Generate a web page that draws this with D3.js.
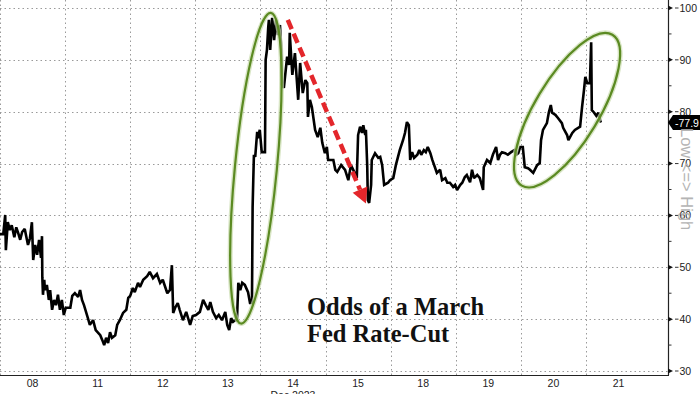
<!DOCTYPE html>
<html><head><meta charset="utf-8">
<script src="https://cdn.jsdelivr.net/npm/d3@7"></script>
<style>body{margin:0;background:#fff}svg{display:block}</style>
</head><body><svg id="c" width="700" height="394"></svg>
<script>
// ---- data ----
const dayLabels = ["08","11","12","13","14","15","18","19","20","21"];
const yTicks = [30,40,50,60,70,80,90,100];
const yMinorTicks = [35,45,55,65,75,85,95];
const monthLabel = "Dec 2023";
const axisCaption = "Low <=> High";
const annotationLines = ["Odds of a March","Fed Rate-Cut"];
const lastValue = 77.9;
// time in trading-day index (0 = start of Dec 08)
const times = [
0.00,0.05,0.08,0.09,0.12,0.15,0.18,0.22,0.25,0.28,0.31,0.34,0.38,0.43,0.46,0.49,0.51,0.54,0.57,0.60,0.63,0.645,0.65,0.66,0.68,0.69,0.72,0.75,0.77,0.80,0.83,0.86,0.89,0.92,0.95,0.98,
1.01,1.08,1.11,1.15,1.20,1.23,1.26,1.29,1.35,1.38,1.43,1.47,1.54,1.57,1.60,1.63,1.66,1.69,1.72,1.77,1.80,1.84,1.89,1.94,1.97,
2.00,2.04,2.07,2.12,2.15,2.20,2.26,2.30,2.35,2.41,2.46,2.50,2.57,2.61,2.64,2.66,2.69,2.73,2.76,2.81,2.86,2.92,2.96,
3.01,3.07,3.12,3.16,3.20,3.23,3.27,3.32,3.36,3.41,3.46,3.49,3.52,3.55,3.58,3.61,3.64,3.66,3.69,3.72,3.76,3.81,3.84,3.87,3.88,3.89,3.90,3.92,3.95,3.96,3.99,
4.02,4.07,4.08,4.10,4.12,4.13,4.15,4.18,4.21,4.24,4.27,4.30,4.32,4.33,4.36,4.41,4.44,4.45,4.49,4.53,4.58,4.61,4.65,4.69,4.72,4.73,4.76,4.79,4.84,4.88,4.92,4.95,4.99,
5.02,5.04,5.12,5.15,5.18,5.24,5.30,5.35,5.39,5.44,5.48,5.50,5.53,5.56,5.58,5.61,5.62,5.64,5.65,5.67,5.70,5.71,5.76,5.81,5.84,5.87,5.90,5.96,5.99,
6.04,6.08,6.14,6.19,6.22,6.25,6.28,6.30,6.33,6.36,6.41,6.44,6.47,6.51,6.54,6.57,6.61,6.64,6.68,6.71,6.76,6.79,6.84,6.87,6.91,6.96,6.99,
7.02,7.07,7.10,7.14,7.17,7.22,7.25,7.28,7.33,7.37,7.42,7.43,7.48,7.53,7.57,7.62,7.65,7.68,7.71,7.76,7.80,7.85,7.90,7.93,7.96,7.99,
8.03,8.06,8.11,8.14,8.19,8.25,8.29,8.31,8.34,8.40,8.43,8.46,8.48,8.53,8.57,8.63,8.65,8.71,8.73,8.79,8.83,8.88,8.91,8.94,8.97,8.99,
9.02,9.06,9.08,9.09,9.12,9.16,9.19,9.22,9.23
];
const values = [
56.4,56.4,60.1,53.3,58.7,57.2,58.1,55.8,57.7,56.6,55.3,56.8,57.4,54.3,55.6,58.7,51.4,54.3,52.4,55.3,51.8,56.0,48.1,44.7,47.6,45.6,46.6,43.7,45.6,41.8,43.7,42.7,44.7,41.8,43.7,40.8,
42.2,42.2,44.5,45.0,44.3,45.6,43.7,42.7,40.2,38.9,39.8,37.9,36.9,36.0,35.0,36.4,35.4,37.5,36.4,36.9,38.9,39.8,41.2,41.8,44.1,
44.5,46.0,45.2,47.0,46.2,47.6,48.3,49.1,47.9,48.7,47.0,47.6,45.0,45.6,50.4,41.2,42.2,43.1,41.8,39.8,41.4,38.9,40.6,
40.8,41.4,43.7,42.7,41.8,43.3,41.4,40.2,40.8,39.8,41.4,38.9,37.9,40.2,39.5,39.8,39.8,47.0,45.6,47.0,46.6,45.2,43.1,43.1,61.6,66.8,71.7,71.3,76.1,74.9,76.5,
72.2,72.2,90.0,91.9,96.3,97.7,91.9,98.1,93.8,97.7,94.8,96.7,91.9,85.2,84.6,90.6,89.0,95.2,87.1,91.3,82.3,89.4,83.6,86.1,85.5,79.0,82.3,80.9,76.5,75.1,76.9,74.0,72.0,
73.2,70.7,70.7,68.8,68.4,69.7,68.8,66.8,69.7,68.4,67.2,75.5,77.1,75.9,77.4,75.5,76.5,69.7,63.0,62.4,65.9,70.7,72.0,71.1,71.3,69.7,65.9,66.3,66.8,
67.2,69.7,72.6,74.5,75.9,78.0,77.4,70.7,72.2,71.1,71.7,72.6,71.7,72.6,72.2,73.2,72.0,70.7,69.3,68.2,68.8,66.8,67.2,66.3,66.3,65.5,65.9,
64.9,65.9,66.3,67.4,67.8,66.4,68.8,67.2,67.8,67.2,64.9,69.3,70.7,70.1,71.7,73.2,70.7,71.7,72.2,72.0,71.7,72.2,72.6,71.7,72.0,73.2,
73.2,69.3,69.1,68.8,68.2,69.7,70.1,74.5,76.5,77.8,79.9,81.3,79.8,79.4,78.8,77.8,76.9,75.5,74.5,75.9,76.5,76.9,77.1,80.9,84.2,86.7,
85.5,85.5,93.4,80.3,79.9,79.2,79.8,78.2,77.9
];
// annotation anchors (data space)
const circleAnchors = [
  {t: 3.93, v: 69.1, rx: 21, ry: 156, rot: 5.5},
  {t: 8.71, v: 80.3, rx: 32, ry: 88, rot: 31}
];
const arrowFrom = {t: 4.42, v: 97.7};
const arrowTo = {t: 5.62, v: 62.3};

// ---- chart ----
const W = 700, H = 394;
const plotR = 668, plotB = 375;
const svg = d3.select("#c");
const x = d3.scaleLinear().domain([0, 10.26]).range([0, plotR]);
const y = d3.scaleLinear().domain([30, 100]).range([371, 8]);

svg.append("rect").attr("width", W).attr("height", H).attr("fill", "#fff");

// gridlines
const grid = svg.append("g").attr("stroke", "#9a9a9a").attr("stroke-width", 1)
  .attr("stroke-dasharray", "1.5,3");
grid.selectAll(".hg").data(yTicks).join("line")
  .attr("x1", 0).attr("x2", plotR)
  .attr("y1", d => Math.round(y(d)) + 0.5).attr("y2", d => Math.round(y(d)) + 0.5);
grid.selectAll(".vg").data(d3.range(dayLabels.length)).join("line")
  .attr("x1", d => Math.round(x(d)) + 0.5).attr("x2", d => Math.round(x(d)) + 0.5)
  .attr("y1", 0).attr("y2", plotB);

// series line
const pts = times.map((t, i) => [t, values[i]]);
svg.append("path").datum(pts)
  .attr("fill", "none").attr("stroke", "#000").attr("stroke-width", 2.6)
  .attr("stroke-linejoin", "miter").attr("stroke-miterlimit", 2)
  .attr("d", d3.line().x(d => x(d[0])).y(d => y(d[1])));

// axes
svg.append("line").attr("x1", plotR + 0.5).attr("x2", plotR + 0.5).attr("y1", 0).attr("y2", plotB)
  .attr("stroke", "#222").attr("stroke-width", 1.2);
svg.append("line").attr("x1", 0).attr("x2", plotR + 1).attr("y1", plotB + 0.5).attr("y2", plotB + 0.5)
  .attr("stroke", "#222").attr("stroke-width", 1.2);

const yAx = svg.append("g");
yAx.selectAll(".tri").data(yTicks).join("path")
  .attr("d", d => `M${plotR},${y(d) - 2.5}L${plotR + 5},${y(d)}L${plotR},${y(d) + 2.5}Z`)
  .attr("fill", "#111");
yAx.selectAll(".dash").data(yTicks).join("line")
  .attr("x1", plotR + 7).attr("x2", plotR + 10.5)
  .attr("y1", d => y(d)).attr("y2", d => y(d)).attr("stroke", "#333");
yAx.selectAll(".minor").data(yMinorTicks).join("line")
  .attr("x1", plotR).attr("x2", plotR + 3.5)
  .attr("y1", d => y(d)).attr("y2", d => y(d)).attr("stroke", "#333");
yAx.selectAll("text").data(yTicks).join("text")
  .attr("x", plotR + 11.5).attr("y", d => y(d) + 3.8)
  .attr("font-family", "Liberation Sans, Arial, sans-serif").attr("font-size", 10.5)
  .attr("fill", "#222").text(d => d);

// x labels
svg.append("g").selectAll("text").data(dayLabels).join("text")
  .attr("x", (d, i) => x(i + 0.5)).attr("y", 387)
  .attr("text-anchor", "middle")
  .attr("font-family", "Liberation Sans, Arial, sans-serif").attr("font-size", 10.5)
  .attr("fill", "#222").text(d => d);
svg.append("text").attr("x", x(4.5)).attr("y", 398.5).attr("text-anchor", "middle")
  .attr("font-family", "Liberation Sans, Arial, sans-serif").attr("font-size", 10.5)
  .attr("fill", "#222").text(monthLabel);

// last value label
const ly = y(lastValue);
svg.append("path")
  .attr("d", `M${plotR},${ly}L${plotR + 5},${ly - 7.5}L${W},${ly - 7.5}L${W},${ly + 7.5}L${plotR + 5},${ly + 7.5}Z`)
  .attr("fill", "#000");
svg.append("text").attr("x", plotR + 7).attr("y", ly + 4)
  .attr("font-family", "Liberation Sans, Arial, sans-serif").attr("font-size", 10.5)
  .attr("fill", "#fff").text("-" + lastValue);

// rotated caption
svg.append("text").attr("transform", `translate(681,128) rotate(90)`)
  .attr("font-family", "Liberation Sans, Arial, sans-serif").attr("font-size", 16.5)
  .attr("fill", "#b4b4b4").text(axisCaption);

// ellipses
const ell = svg.append("g");
circleAnchors.forEach(c => {
  const g = ell.append("g").attr("transform", `translate(${x(c.t)},${y(c.v)}) rotate(${c.rot})`);
  g.append("ellipse").attr("rx", c.rx).attr("ry", c.ry).attr("fill", "none")
    .attr("stroke", "#c9dcae").attr("stroke-width", 5).attr("opacity", 0.7);
  g.append("ellipse").attr("rx", c.rx).attr("ry", c.ry).attr("fill", "none")
    .attr("stroke", "#5b8a22").attr("stroke-width", 2.2);
});

// red dashed arrow
const ax1 = x(arrowFrom.t), ay1 = y(arrowFrom.v), ax2 = x(arrowTo.t), ay2 = y(arrowTo.v);
const ang = Math.atan2(ay2 - ay1, ax2 - ax1);
const headL = 15, headW = 8;
const bx = ax2 - headL * Math.cos(ang), by = ay2 - headL * Math.sin(ang);
svg.append("line").attr("x1", ax1).attr("y1", ay1).attr("x2", bx).attr("y2", by)
  .attr("stroke", "#e3262b").attr("stroke-width", 4.5).attr("stroke-dasharray", "10,5");
svg.append("path")
  .attr("d", `M${ax2},${ay2}L${bx + headW * Math.sin(ang)},${by - headW * Math.cos(ang)}L${bx - headW * Math.sin(ang)},${by + headW * Math.cos(ang)}Z`)
  .attr("fill", "#e3262b");

// annotation text
svg.append("g").selectAll("text").data(annotationLines).join("text")
  .attr("x", 307).attr("y", (d, i) => 315 + i * 27)
  .attr("font-family", "Liberation Serif, 'Times New Roman', serif").attr("font-weight", "bold")
  .attr("font-size", 24.5).attr("fill", "#111").text(d => d);
</script></body></html>
